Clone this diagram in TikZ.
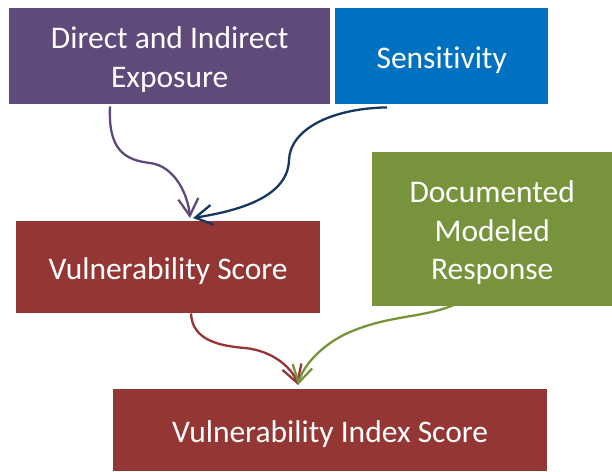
\documentclass[tikz,border=0pt]{standalone}
\usepackage{fontspec}
\setmainfont[Ligatures={NoCommon}]{Carlito}
\usetikzlibrary{arrows.meta,calc}
\definecolor{cpurple}{HTML}{604A7B}
\definecolor{cblue}{HTML}{0070C0}
\definecolor{cred}{HTML}{943634}
\definecolor{cgreen}{HTML}{77933C}
\definecolor{cnavy}{HTML}{17375E}
\definecolor{cpurpline}{HTML}{5F497A}
\newcommand{\topstrut}{\rule{0pt}{29pt}}
\tikzset{
  box/.style={anchor=north west, inner sep=0pt, text=white, align=center,
    font=\fontsize{31.5}{38.5}\selectfont},
  conn/.style={line width=2.3pt, -{Straight Barb[length=17pt,width=20pt]}},
}
\begin{document}
\begin{tikzpicture}[x=1pt,y=-1pt]
\useasboundingbox (0,0) rectangle (612,471);
\node[box, fill=cpurple, minimum width=321pt, minimum height=96pt] (exp) at (9,8) {\topstrut Direct and Indirect\\Exposure};
\node[box, fill=cblue, minimum width=213pt, minimum height=96pt] (sen) at (335,8) {\topstrut Sensitivity};
\node[box, fill=cred, minimum width=304pt, minimum height=92pt] (vs) at (16,221) {\topstrut Vulnerability Score};
\node[box, fill=cgreen, minimum width=240pt, minimum height=154pt] (dmr) at (372,152) {\topstrut Documented\\Modeled\\Response};
\node[box, fill=cred, minimum width=434pt, minimum height=82pt] (vis) at (113,389) {\topstrut Vulnerability Index Score};
\draw[conn, cpurpline] ($(exp.south west)+(101,2)$) .. controls +(-2,44) and (125,160) .. (150,163) .. controls (175,166) and (188,195) .. ($(vs.north west)+(174,-3)$);
\draw[conn, cnavy] ($(sen.south west)+(52,3)$) .. controls +(-57,1) and (290,130) .. (289,160) .. controls (288,200) and (230,212) .. ($(vs.north west)+(177,-3)$);
\draw[conn, cred] ($(vs.south west)+(175,0)$) .. controls +(1,27) and (220,346) .. (245,348) .. controls (275,351) and (293,370) .. ($(vis.north west)+(185,-4)$);
\draw[conn, cgreen] ($(dmr.south west)+(81,-1)$) .. controls +(-33,13) and (390,315) .. (350,332) .. controls (320,345) and (302,368) .. ($(vis.north west)+(185,-4)$);
\end{tikzpicture}
\end{document}
